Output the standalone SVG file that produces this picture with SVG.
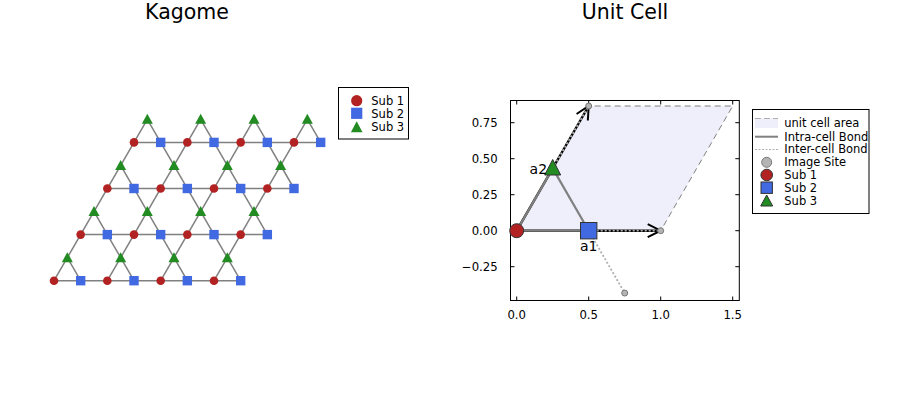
<svg xmlns="http://www.w3.org/2000/svg" xmlns:xlink="http://www.w3.org/1999/xlink" width="900" height="400" viewBox="0 0 900 400">
<style>
text{font-family:"DejaVu Sans","Liberation Sans",sans-serif;fill:#000}
.title{font-size:20.5px;text-anchor:middle}
.tick{font-size:11.7px}
.leg{font-size:11.5px}
.lat{stroke:#808080;stroke-width:1.5;fill:none}
.intra{stroke:#808080;stroke-width:2.2;fill:none}
.inter{stroke:#b0b0b0;stroke-width:1.8;stroke-dasharray:2 2;fill:none}
.vec{stroke:#000;stroke-width:2.4;fill:none}
.frame{stroke:#000;stroke-width:1;fill:none}
.tk{stroke:#000;stroke-width:1}
.r{fill:#b22222}.b{fill:#4169e1}.g{fill:#228b22}
.ol{stroke:#333;stroke-width:1}
.img{fill:#b4b4b4;stroke:#777;stroke-width:1}
.box{fill:#fff;stroke:#000;stroke-width:1}
</style>
<defs>
<circle id="c" r="4.3"/>
<rect id="sq" x="-4.7" y="-4.7" width="9.4" height="9.4"/>
<polygon id="tr" points="0,-5.5 5.5,4.5 -5.5,4.5"/>
<marker id="ah" viewBox="-16 -8 18 16" markerWidth="18" markerHeight="16" refX="0" refY="0" orient="auto" markerUnits="userSpaceOnUse">
<path d="M-13,-6.5 L0,0 L-13,6.5" fill="none" stroke="#000" stroke-width="2"/>
</marker>
</defs>
<rect width="900" height="400" fill="#fff"/>

<text class="title" x="187" y="18.5">Kagome</text>
<text class="title" x="625" y="18.5">Unit Cell</text>

<!-- Kagome lattice bonds -->
<g id="kagome-bonds">
<line class="lat" x1="54" y1="280.7" x2="240.67" y2="280.7"/>
<line class="lat" x1="80.67" y1="234.6" x2="267.33" y2="234.6"/>
<line class="lat" x1="107.33" y1="188.5" x2="294" y2="188.5"/>
<line class="lat" x1="134" y1="142.4" x2="320.67" y2="142.4"/>
<line class="lat" x1="54" y1="280.7" x2="147.33" y2="119.35"/>
<line class="lat" x1="107.33" y1="280.7" x2="200.67" y2="119.35"/>
<line class="lat" x1="160.67" y1="280.7" x2="254" y2="119.35"/>
<line class="lat" x1="214" y1="280.7" x2="307.33" y2="119.35"/>
<line class="lat" x1="80.67" y1="280.7" x2="67.33" y2="257.65"/>
<line class="lat" x1="134" y1="280.7" x2="94" y2="211.55"/>
<line class="lat" x1="187.33" y1="280.7" x2="120.67" y2="165.45"/>
<line class="lat" x1="240.67" y1="280.7" x2="147.33" y2="119.35"/>
<line class="lat" x1="267.33" y1="234.6" x2="200.67" y2="119.35"/>
<line class="lat" x1="294" y1="188.5" x2="254" y2="119.35"/>
<line class="lat" x1="320.67" y1="142.4" x2="307.33" y2="119.35"/>
</g>

<!-- Kagome sites -->
<g id="kagome-sites">
<g id="k1-0-0"><use xlink:href="#c" class="r" x="54" y="280.7"/></g>
<g id="k1-1-0"><use xlink:href="#c" class="r" x="107.33" y="280.7"/></g>
<g id="k1-2-0"><use xlink:href="#c" class="r" x="160.67" y="280.7"/></g>
<g id="k1-3-0"><use xlink:href="#c" class="r" x="214" y="280.7"/></g>
<g id="k2-0-0"><use xlink:href="#sq" class="b" x="80.67" y="280.7"/></g>
<g id="k2-1-0"><use xlink:href="#sq" class="b" x="134" y="280.7"/></g>
<g id="k2-2-0"><use xlink:href="#sq" class="b" x="187.33" y="280.7"/></g>
<g id="k2-3-0"><use xlink:href="#sq" class="b" x="240.67" y="280.7"/></g>
<g id="k3-0-0"><use xlink:href="#tr" class="g" x="67.33" y="257.65"/></g>
<g id="k3-1-0"><use xlink:href="#tr" class="g" x="120.67" y="257.65"/></g>
<g id="k3-2-0"><use xlink:href="#tr" class="g" x="174" y="257.65"/></g>
<g id="k3-3-0"><use xlink:href="#tr" class="g" x="227.33" y="257.65"/></g>

<g id="k1-0-1"><use xlink:href="#c" class="r" x="80.67" y="234.6"/></g>
<g id="k1-1-1"><use xlink:href="#c" class="r" x="134" y="234.6"/></g>
<g id="k1-2-1"><use xlink:href="#c" class="r" x="187.33" y="234.6"/></g>
<g id="k1-3-1"><use xlink:href="#c" class="r" x="240.67" y="234.6"/></g>
<g id="k2-0-1"><use xlink:href="#sq" class="b" x="107.33" y="234.6"/></g>
<g id="k2-1-1"><use xlink:href="#sq" class="b" x="160.67" y="234.6"/></g>
<g id="k2-2-1"><use xlink:href="#sq" class="b" x="214" y="234.6"/></g>
<g id="k2-3-1"><use xlink:href="#sq" class="b" x="267.33" y="234.6"/></g>
<g id="k3-0-1"><use xlink:href="#tr" class="g" x="94" y="211.55"/></g>
<g id="k3-1-1"><use xlink:href="#tr" class="g" x="147.33" y="211.55"/></g>
<g id="k3-2-1"><use xlink:href="#tr" class="g" x="200.67" y="211.55"/></g>
<g id="k3-3-1"><use xlink:href="#tr" class="g" x="254" y="211.55"/></g>

<g id="k1-0-2"><use xlink:href="#c" class="r" x="107.33" y="188.5"/></g>
<g id="k1-1-2"><use xlink:href="#c" class="r" x="160.67" y="188.5"/></g>
<g id="k1-2-2"><use xlink:href="#c" class="r" x="214" y="188.5"/></g>
<g id="k1-3-2"><use xlink:href="#c" class="r" x="267.33" y="188.5"/></g>
<g id="k2-0-2"><use xlink:href="#sq" class="b" x="134" y="188.5"/></g>
<g id="k2-1-2"><use xlink:href="#sq" class="b" x="187.33" y="188.5"/></g>
<g id="k2-2-2"><use xlink:href="#sq" class="b" x="240.67" y="188.5"/></g>
<g id="k2-3-2"><use xlink:href="#sq" class="b" x="294" y="188.5"/></g>
<g id="k3-0-2"><use xlink:href="#tr" class="g" x="120.67" y="165.45"/></g>
<g id="k3-1-2"><use xlink:href="#tr" class="g" x="174" y="165.45"/></g>
<g id="k3-2-2"><use xlink:href="#tr" class="g" x="227.33" y="165.45"/></g>
<g id="k3-3-2"><use xlink:href="#tr" class="g" x="280.67" y="165.45"/></g>

<g id="k1-0-3"><use xlink:href="#c" class="r" x="134" y="142.4"/></g>
<g id="k1-1-3"><use xlink:href="#c" class="r" x="187.33" y="142.4"/></g>
<g id="k1-2-3"><use xlink:href="#c" class="r" x="240.67" y="142.4"/></g>
<g id="k1-3-3"><use xlink:href="#c" class="r" x="294" y="142.4"/></g>
<g id="k2-0-3"><use xlink:href="#sq" class="b" x="160.67" y="142.4"/></g>
<g id="k2-1-3"><use xlink:href="#sq" class="b" x="214" y="142.4"/></g>
<g id="k2-2-3"><use xlink:href="#sq" class="b" x="267.33" y="142.4"/></g>
<g id="k2-3-3"><use xlink:href="#sq" class="b" x="320.67" y="142.4"/></g>
<g id="k3-0-3"><use xlink:href="#tr" class="g" x="147.33" y="119.35"/></g>
<g id="k3-1-3"><use xlink:href="#tr" class="g" x="200.67" y="119.35"/></g>
<g id="k3-2-3"><use xlink:href="#tr" class="g" x="254" y="119.35"/></g>
<g id="k3-3-3"><use xlink:href="#tr" class="g" x="307.33" y="119.35"/></g>
</g>

<!-- Left legend -->
<g id="legend-kagome">
<rect class="box" x="338.5" y="87.5" width="70" height="51.5"/>
<circle class="r" cx="356.7" cy="100.7" r="5.6"/>
<rect class="b" x="351.1" y="107.7" width="11.2" height="11.2"/>
<polygon class="g" points="356.7,121.3 362.5,132.3 350.9,132.3"/>
<text class="leg" x="371.3" y="104.8">Sub 1</text>
<text class="leg" x="371.3" y="117.7">Sub 2</text>
<text class="leg" x="371.3" y="130.7">Sub 3</text>
</g>

<!-- Unit cell axes -->
<g id="axes">
<rect class="frame" x="510.5" y="100.5" width="228.8" height="200"/>
<path class="tk" d="M516.7,300.5v-4M588.7,300.5v-4M660.7,300.5v-4M732.7,300.5v-4M516.7,100.5v4M588.7,100.5v4M660.7,100.5v4M732.7,100.5v4M510.5,122.7h4M510.5,158.7h4M510.5,194.7h4M510.5,230.7h4M510.5,266.7h4M739.3,122.7h-4M739.3,158.7h-4M739.3,194.7h-4M739.3,230.7h-4M739.3,266.7h-4"/>
<g class="tick" text-anchor="middle">
<text x="516.7" y="318.5">0.0</text>
<text x="588.7" y="318.5">0.5</text>
<text x="660.7" y="318.5">1.0</text>
<text x="732.7" y="318.5">1.5</text>
</g>
<g class="tick" text-anchor="end">
<text x="497.7" y="127">0.75</text>
<text x="497.7" y="163">0.50</text>
<text x="497.7" y="199">0.25</text>
<text x="497.7" y="235">0.00</text>
<text x="497.7" y="271">−0.25</text>
</g>
</g>

<!-- Unit cell area -->
<g id="unit-cell-area">
<polygon points="516.7,230.7 660.7,230.7 732.7,106 588.7,106" fill="#efeffb" stroke="#808080" stroke-width="1" stroke-dasharray="6 4"/>
</g>

<!-- Connectors -->
<g id="connectors">
<line class="vec" x1="516.7" y1="230.7" x2="660.7" y2="230.7" marker-end="url(#ah)"/>
<line class="vec" x1="516.7" y1="230.7" x2="588.7" y2="106" marker-end="url(#ah)"/>
<line class="inter" x1="588.7" y1="230.7" x2="660.7" y2="230.7" stroke-width="1.2"/>
<line class="inter" x1="552.7" y1="168.35" x2="588.7" y2="106" stroke-width="1.2"/>
<line class="inter" x1="588.7" y1="230.7" x2="624.7" y2="293.05"/>
<line class="intra" x1="516.7" y1="230.7" x2="588.7" y2="230.7"/>
<line class="intra" x1="516.7" y1="230.7" x2="552.7" y2="168.35"/>
<line class="intra" x1="588.7" y1="230.7" x2="552.7" y2="168.35"/>
</g>

<!-- Image sites -->
<g id="image-sites">
<g id="img-a1"><circle class="img" cx="660.7" cy="230.7" r="3"/></g>
<g id="img-a2"><circle class="img" cx="588.7" cy="106" r="3"/></g>
<g id="img-s3"><circle class="img" cx="624.7" cy="293.05" r="3"/></g>
</g>

<!-- Unit cell sites -->
<g id="uc-sub1"><circle class="r ol" cx="516.7" cy="230.7" r="7"/></g>
<g id="uc-sub2"><rect class="b ol" x="580.5" y="222.5" width="16.4" height="16.4"/></g>
<g id="uc-sub3"><polygon class="g ol" points="552.7,159.5 560.7,175 544.7,175"/></g>

<text x="588.7" y="251" font-size="14" text-anchor="middle">a1</text>
<text x="538.3" y="174" font-size="14" text-anchor="middle">a2</text>

<!-- Right legend -->
<g id="legend-cell">
<rect class="box" x="752.5" y="109.5" width="116.5" height="104"/>
<rect x="755" y="118.5" width="23" height="9.5" fill="#efeffb"/>
<line x1="755" y1="118.5" x2="778" y2="118.5" stroke="#b0b0b0" stroke-width="1" stroke-dasharray="6 3"/>
<line x1="755" y1="136.7" x2="778" y2="136.7" stroke="#808080" stroke-width="2"/>
<line x1="755" y1="149.5" x2="778" y2="149.5" stroke="#b0b0b0" stroke-width="1" stroke-dasharray="2 1.5"/>
<circle class="img" cx="766.7" cy="162.3" r="5"/>
<circle class="r ol" cx="766.7" cy="175" r="5.8"/>
<rect class="b ol" x="761" y="182" width="11.4" height="11.4"/>
<polygon class="g ol" points="766.7,195 772.7,206 760.7,206"/>
<text class="leg" x="784.3" y="127.4">unit cell area</text>
<text class="leg" x="784.3" y="140.6">Intra-cell Bond</text>
<text class="leg" x="784.3" y="153.1">Inter-cell Bond</text>
<text class="leg" x="784.3" y="166.4">Image Site</text>
<text class="leg" x="784.3" y="179.1">Sub 1</text>
<text class="leg" x="784.3" y="191.8">Sub 2</text>
<text class="leg" x="784.3" y="205.1">Sub 3</text>
</g>
</svg>
